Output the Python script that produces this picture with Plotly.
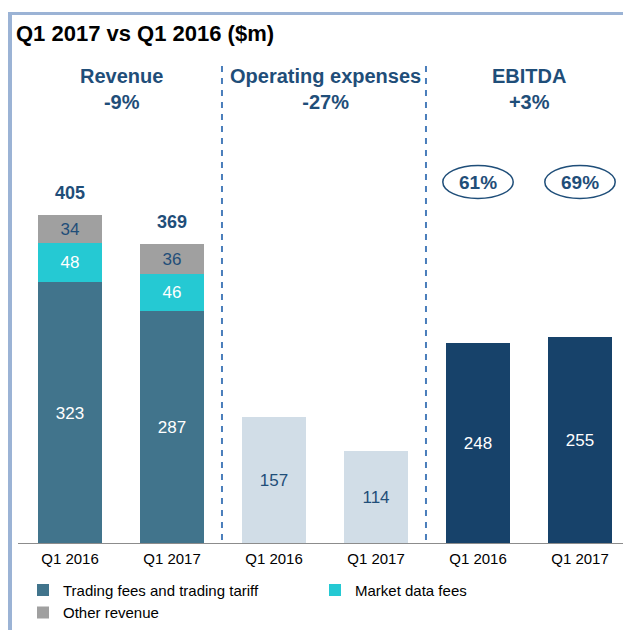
import plotly.graph_objects as go

# ---- data ----
periods = ["Q1 2016", "Q1 2017", "Q1 2016", "Q1 2017", "Q1 2016", "Q1 2017"]
trading_fees = [323, 287]
market_data = [48, 46]
other_rev = [34, 36]
opex = [157, 114]
ebitda = [248, 255]
ebitda_margin = ["61%", "69%"]
groups = [("Revenue", "-9%"), ("Operating expenses", "-27%"), ("EBITDA", "+3%")]

TEAL, CYAN, GREY = "#41748C", "#25C9D3", "#A0A0A0"
PALE, NAVY, HEAD = "#D1DDE7", "#17426A", "#1F4E79"
FONT = "Liberation Sans, Arial, sans-serif"

W, H = 623, 630
# plot box in pixels
PLOT_L, PLOT_R, PLOT_T, PLOT_B = 18, 623, 140, 544
PX_PER_UNIT = 0.812
y_top = (PLOT_B - PLOT_T) / PX_PER_UNIT
step = 102.0
x0_px = 70
x_lo = (PLOT_L - x0_px) / step
x_hi = (PLOT_R - x0_px) / step


def px(x):
    return x / W


def py(y):
    return (H - y) / H


rev_x = [0, 1]
opex_x = [2, 3]
ebit_x = [4, 5]
bw = 0.63

fig = go.Figure()
seg_font = dict(family=FONT, size=17)
fig.add_trace(go.Bar(x=rev_x, y=trading_fees, name="Trading fees and trading tariff",
                     marker=dict(color=TEAL, line=dict(width=0)), width=bw,
                     text=trading_fees, textposition="inside", insidetextanchor="middle",
                     textfont=dict(seg_font, color="white")))
fig.add_trace(go.Bar(x=rev_x, y=market_data, name="Market data fees",
                     marker=dict(color=CYAN, line=dict(width=0)), width=bw,
                     text=market_data, textposition="inside", insidetextanchor="middle",
                     textfont=dict(seg_font, color="white")))
fig.add_trace(go.Bar(x=rev_x, y=other_rev, name="Other revenue",
                     marker=dict(color=GREY, line=dict(width=0)), width=bw,
                     text=other_rev, textposition="inside", insidetextanchor="middle",
                     textfont=dict(seg_font, color=HEAD)))
fig.add_trace(go.Bar(x=opex_x, y=opex, showlegend=False,
                     marker=dict(color=PALE, line=dict(width=0)), width=bw,
                     text=opex, textposition="inside", insidetextanchor="middle",
                     textfont=dict(seg_font, color=HEAD)))
fig.add_trace(go.Bar(x=ebit_x, y=ebitda, showlegend=False,
                     marker=dict(color=NAVY, line=dict(width=0)), width=bw,
                     text=ebitda, textposition="inside", insidetextanchor="middle",
                     textfont=dict(seg_font, color="white")))

# revenue totals
for xi, a, b, c in zip(rev_x, trading_fees, market_data, other_rev):
    tot = a + b + c
    fig.add_annotation(x=xi, y=tot, yshift=22, text=f"<b>{tot}</b>", showarrow=False,
                       font=dict(family=FONT, size=18, color=HEAD))

# EBITDA margin ellipses
y_ell = (PLOT_B - 182) / PX_PER_UNIT
dy = 16.5 / PX_PER_UNIT
for xi, m in zip(ebit_x, ebitda_margin):
    fig.add_shape(type="circle", xref="x", yref="y", x0=xi - 0.345, x1=xi + 0.345,
                  y0=y_ell - dy, y1=y_ell + dy, line=dict(color=HEAD, width=1.5))
    fig.add_annotation(x=xi, y=y_ell, text=f"<b>{m}</b>", showarrow=False,
                       font=dict(family=FONT, size=19, color=HEAD))

# group headers
for i, (name, chg) in enumerate(groups):
    fig.add_annotation(x=2 * i + 0.5, xref="x", yref="paper", y=py(89),
                       yanchor="middle", showarrow=False,
                       text=f"<b>{name}<br>{chg}</b>",
                       font=dict(family=FONT, size=20, color=HEAD))

# dashed separators
for xs in [1.49, 3.49]:
    fig.add_shape(type="line", xref="x", yref="paper", x0=xs, x1=xs,
                  y0=py(540), y1=py(60),
                  line=dict(color="#4A7EBB", width=2, dash="6px,6px"))

# baseline
fig.add_shape(type="line", xref="paper", yref="y", x0=px(PLOT_L), x1=1, y0=0, y1=0,
              line=dict(color="#8C8C8C", width=2))

# frame: left and top border
fig.add_shape(type="line", xref="paper", yref="paper", x0=px(10), x1=px(10),
              y0=0, y1=py(12), line=dict(color="#9BB3D5", width=4))
fig.add_shape(type="line", xref="paper", yref="paper", x0=px(8), x1=1,
              y0=py(13.5), y1=py(13.5), line=dict(color="#9BB3D5", width=3))

fig.add_annotation(xref="paper", yref="paper", x=px(14), y=py(33),
                   xanchor="left", yanchor="middle", showarrow=False,
                   text="<b>Q1 2017 vs Q1 2016 ($m)</b>",
                   font=dict(family=FONT, size=22, color="black"))

fig.update_layout(
    width=W, height=H, barmode="stack", bargap=0,
    margin=dict(l=0, r=0, t=0, b=0, pad=0),
    paper_bgcolor="white", plot_bgcolor="white",
    font=dict(family=FONT),
    xaxis=dict(domain=[px(PLOT_L), px(PLOT_R)], range=[x_lo, x_hi],
               tickvals=list(range(len(periods))), ticktext=periods,
               showgrid=False, zeroline=False, showline=False, ticks="",
               automargin=False, ticklabelstandoff=4,
               tickfont=dict(family=FONT, size=15, color="black"), fixedrange=True),
    yaxis=dict(domain=[py(PLOT_B), py(PLOT_T)], range=[0, y_top], visible=False,
               automargin=False, fixedrange=True),
    # legend sits flush with the bottom edge so it does not push the margins
    legend=dict(orientation="h", x=px(23), xanchor="left", y=0.002, yanchor="bottom",
                entrywidth=247, entrywidthmode="pixels", itemwidth=30,
                font=dict(family=FONT, size=15, color="black"),
                traceorder="normal", bgcolor="rgba(0,0,0,0)"),
    showlegend=True,
)

# drop the default 8px page margin so the figure fills the window exactly
fig.write_html("out.html", post_script="document.body.style.margin='0';",
               config={"displayModeBar": False})
